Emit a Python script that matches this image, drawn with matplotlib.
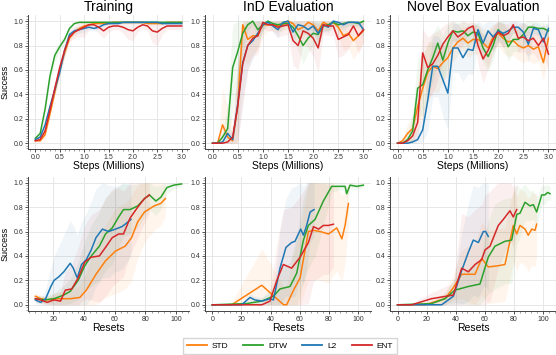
import numpy as np
import matplotlib
matplotlib.use('Agg')
import matplotlib.pyplot as plt
from matplotlib.ticker import AutoMinorLocator, MultipleLocator
from matplotlib.lines import Line2D

plt.rcParams['font.family'] = ['Liberation Sans', 'DejaVu Sans']

# colours per method
c_std = '#ff7f0e'
c_dtw = '#2ca02c'
c_l2 = '#1f77b4'
c_ent = '#d62728'

# ---- top row: steps (millions), sampled every 0.1M ----
steps = [0.0, 0.1, 0.2, 0.3, 0.4, 0.5, 0.6, 0.7, 0.8, 0.9, 1.0, 1.1, 1.2, 1.3, 1.4, 1.5,
         1.6, 1.7, 1.8, 1.9, 2.0, 2.1, 2.2, 2.3, 2.4, 2.5, 2.6, 2.7, 2.8, 2.9, 3.0]

# Training
tr_std = [0.02, 0.02, 0.07, 0.24, 0.42, 0.60, 0.74, 0.86, 0.91, 0.94, 0.96, 0.97, 0.98, 0.98, 0.98, 0.98,
          0.99, 0.99, 0.99, 0.99, 0.99, 0.99, 0.99, 0.98, 0.98, 0.98, 0.98, 0.99, 0.99, 0.99, 0.99]
tr_dtw = [0.04, 0.08, 0.28, 0.55, 0.72, 0.79, 0.85, 0.94, 0.98, 0.99, 0.99, 0.99, 0.99, 0.99, 0.99, 0.99,
          0.99, 0.99, 0.99, 0.99, 0.99, 0.99, 0.99, 0.99, 0.99, 0.99, 0.99, 0.99, 0.99, 0.99, 0.99]
tr_l2 = [0.03, 0.05, 0.15, 0.30, 0.44, 0.58, 0.76, 0.89, 0.92, 0.93, 0.94, 0.95, 0.94, 0.95, 0.97, 0.98,
         0.98, 0.98, 0.99, 0.99, 0.99, 0.99, 0.99, 0.99, 0.99, 0.99, 0.98, 0.98, 0.98, 0.98, 0.98]
tr_ent = [0.02, 0.03, 0.10, 0.27, 0.45, 0.62, 0.76, 0.87, 0.91, 0.93, 0.95, 0.97, 0.97, 0.95, 0.92, 0.95,
          0.96, 0.96, 0.95, 0.93, 0.92, 0.95, 0.97, 0.96, 0.92, 0.91, 0.94, 0.96, 0.96, 0.96, 0.96]
tr_std_s = [0.01, 0.01, 0.03, 0.04, 0.04, 0.04, 0.04, 0.03, 0.03, 0.02, 0.02, 0.01, 0.01, 0.01, 0.01, 0.01,
            0.01, 0.01, 0.01, 0.01, 0.01, 0.01, 0.01, 0.01, 0.01, 0.01, 0.01, 0.01, 0.01, 0.01, 0.01]
tr_dtw_s = [0.01, 0.02, 0.04, 0.05, 0.05, 0.04, 0.03, 0.02, 0.01, 0.01, 0.01, 0.01, 0.01, 0.01, 0.01, 0.01,
            0.01, 0.01, 0.01, 0.01, 0.01, 0.01, 0.01, 0.01, 0.01, 0.01, 0.01, 0.01, 0.01, 0.01, 0.01]
tr_l2_s = [0.01, 0.01, 0.03, 0.04, 0.04, 0.04, 0.04, 0.03, 0.03, 0.03, 0.03, 0.02, 0.02, 0.02, 0.02, 0.01,
           0.01, 0.01, 0.01, 0.01, 0.01, 0.01, 0.01, 0.01, 0.01, 0.01, 0.01, 0.01, 0.01, 0.01, 0.01]
tr_ent_s = [0.01, 0.01, 0.03, 0.04, 0.05, 0.05, 0.05, 0.04, 0.05, 0.06, 0.08, 0.04, 0.03, 0.05, 0.06, 0.04,
            0.03, 0.03, 0.05, 0.08, 0.08, 0.04, 0.03, 0.04, 0.10, 0.11, 0.05, 0.03, 0.03, 0.03, 0.03]

# InD Evaluation
ind_std = [0.0, 0.0, 0.15, 0.05, 0.02, 0.30, 0.97, 0.85, 0.88, 0.88, 0.97, 0.97, 0.97, 0.96, 0.97, 1.00,
           0.98, 0.93, 0.95, 0.99, 0.97, 0.92, 0.99, 0.97, 0.99, 0.95, 0.88, 0.90, 0.84, 0.88, 0.92]
ind_dtw = [0.0, 0.0, 0.05, 0.12, 0.62, 0.75, 0.90, 0.97, 1.00, 0.93, 0.97, 1.00, 0.98, 0.97, 0.98, 0.98,
           0.95, 0.88, 0.80, 0.86, 0.90, 0.89, 0.96, 0.97, 0.99, 0.97, 0.98, 0.99, 0.99, 0.98, 1.00]
ind_l2 = [0.0, 0.0, 0.01, 0.08, 0.03, 0.32, 0.66, 0.80, 0.84, 0.90, 0.97, 0.99, 0.96, 0.93, 0.99, 1.00,
          0.91, 0.97, 0.96, 0.93, 0.96, 0.90, 0.97, 0.95, 1.00, 0.99, 0.97, 0.99, 0.99, 0.99, 0.93]
ind_ent = [0.0, 0.0, 0.0, 0.01, 0.05, 0.30, 0.65, 0.80, 0.86, 0.88, 0.99, 0.97, 0.97, 0.95, 0.96, 0.97,
           0.84, 0.80, 0.92, 0.90, 0.86, 0.78, 0.97, 0.96, 0.96, 0.85, 0.87, 0.89, 0.96, 0.88, 0.93]
ind_std_s = [0.0, 0.0, 0.30, 0.25, 0.10, 0.30, 0.30, 0.20, 0.15, 0.12, 0.10, 0.05, 0.05, 0.05, 0.05, 0.03,
             0.05, 0.08, 0.08, 0.05, 0.05, 0.10, 0.05, 0.05, 0.05, 0.08, 0.12, 0.12, 0.15, 0.12, 0.10]
ind_dtw_s = [0.0, 0.0, 0.05, 0.20, 0.35, 0.30, 0.15, 0.05, 0.03, 0.08, 0.05, 0.02, 0.03, 0.05, 0.05, 0.05,
             0.08, 0.12, 0.15, 0.12, 0.10, 0.10, 0.05, 0.05, 0.03, 0.05, 0.03, 0.03, 0.03, 0.03, 0.02]
ind_l2_s = [0.0, 0.0, 0.02, 0.08, 0.05, 0.30, 0.30, 0.20, 0.15, 0.10, 0.05, 0.02, 0.05, 0.07, 0.02, 0.02,
            0.08, 0.05, 0.05, 0.07, 0.05, 0.10, 0.05, 0.05, 0.02, 0.02, 0.05, 0.03, 0.03, 0.03, 0.07]
ind_ent_s = [0.0, 0.0, 0.0, 0.02, 0.10, 0.35, 0.35, 0.20, 0.15, 0.15, 0.05, 0.05, 0.05, 0.08, 0.08, 0.08,
             0.20, 0.20, 0.10, 0.12, 0.15, 0.20, 0.08, 0.08, 0.08, 0.15, 0.15, 0.12, 0.10, 0.15, 0.10]

# Novel Box Evaluation
nb_std = [0.0, 0.02, 0.08, 0.12, 0.30, 0.45, 0.58, 0.63, 0.61, 0.66, 0.70, 0.78, 0.83, 0.86, 0.82, 0.85,
          0.85, 0.82, 0.78, 0.87, 0.90, 0.86, 0.83, 0.84, 0.80, 0.78, 0.80, 0.77, 0.79, 0.66, 0.86]
nb_dtw = [0.0, 0.0, 0.03, 0.10, 0.45, 0.48, 0.60, 0.70, 0.82, 0.68, 0.82, 0.92, 0.91, 0.92, 0.88, 0.91,
          0.90, 0.78, 0.71, 0.80, 0.93, 0.89, 0.79, 0.85, 0.85, 0.89, 0.95, 0.95, 0.94, 0.94, 0.92]
nb_l2 = [0.0, 0.0, 0.0, 0.01, 0.03, 0.11, 0.35, 0.63, 0.63, 0.52, 0.41, 0.78, 0.78, 0.70, 0.77, 0.76,
         0.93, 0.82, 0.92, 0.87, 0.92, 0.90, 0.92, 0.95, 0.95, 0.91, 0.81, 0.94, 0.93, 0.83, 0.94]
nb_ent = [0.0, 0.0, 0.02, 0.06, 0.17, 0.74, 0.62, 0.65, 0.72, 0.81, 0.87, 0.92, 0.87, 0.90, 0.94, 0.96,
          0.80, 0.69, 0.76, 0.85, 0.91, 0.88, 0.90, 0.97, 0.86, 0.87, 0.84, 0.86, 0.80, 0.86, 0.73]
nb_std_s = [0.0, 0.02, 0.08, 0.10, 0.20, 0.25, 0.25, 0.20, 0.20, 0.15, 0.15, 0.12, 0.10, 0.10, 0.12, 0.12,
            0.12, 0.12, 0.15, 0.10, 0.10, 0.12, 0.12, 0.12, 0.12, 0.12, 0.12, 0.12, 0.12, 0.15, 0.12]
nb_dtw_s = [0.0, 0.01, 0.05, 0.15, 0.25, 0.25, 0.20, 0.20, 0.15, 0.20, 0.15, 0.08, 0.08, 0.08, 0.10, 0.08,
            0.08, 0.12, 0.12, 0.12, 0.08, 0.10, 0.12, 0.10, 0.10, 0.10, 0.05, 0.05, 0.05, 0.05, 0.05]
nb_l2_s = [0.0, 0.0, 0.01, 0.03, 0.10, 0.10, 0.25, 0.25, 0.25, 0.30, 0.30, 0.20, 0.20, 0.20, 0.20, 0.20,
           0.10, 0.15, 0.10, 0.12, 0.08, 0.10, 0.08, 0.05, 0.05, 0.08, 0.15, 0.05, 0.05, 0.12, 0.05]
nb_ent_s = [0.0, 0.0, 0.02, 0.05, 0.15, 0.20, 0.25, 0.25, 0.20, 0.15, 0.12, 0.08, 0.10, 0.10, 0.05, 0.05,
            0.15, 0.20, 0.15, 0.12, 0.08, 0.10, 0.08, 0.05, 0.12, 0.12, 0.12, 0.12, 0.12, 0.12, 0.15]

# ---- bottom row: resets ----
# Training vs resets
bl_std_x = [8.3, 11.8, 16, 22.6, 31, 37.3, 41.5, 47.8, 54, 60.5, 66.8, 71, 75, 79.4, 85.7, 90, 93]
bl_std_y = [0.07, 0.05, 0.04, 0.05, 0.05, 0.06, 0.12, 0.25, 0.36, 0.44, 0.48, 0.55, 0.68, 0.76, 0.81, 0.83, 0.87]
bl_std_s = [0.03, 0.03, 0.03, 0.05, 0.08, 0.10, 0.15, 0.25, 0.30, 0.35, 0.35, 0.35, 0.30, 0.25, 0.20, 0.18, 0.15]
bl_dtw_x = [8.3, 14.2, 20.5, 26.8, 31, 36.2, 40.5, 44.7, 50, 54, 58.4, 62.6, 65.7, 70, 75, 79.4, 82.6,
            86.8, 90, 94, 98.4, 103.6]
bl_dtw_y = [0.05, 0.04, 0.05, 0.08, 0.11, 0.20, 0.32, 0.40, 0.48, 0.58, 0.63, 0.72, 0.78, 0.78, 0.81, 0.87,
            0.90, 0.85, 0.88, 0.96, 0.98, 0.99]
bl_dtw_s = [0.03, 0.03, 0.05, 0.08, 0.10, 0.15, 0.20, 0.25, 0.28, 0.30, 0.30, 0.25, 0.22, 0.20, 0.18, 0.15,
            0.12, 0.12, 0.10, 0.05, 0.03, 0.02]
bl_l2_x = [8.3, 11.8, 15, 18.4, 20.5, 23.6, 26.8, 31, 33, 35.6, 38.4, 41.5, 44.7, 47.8, 52, 56, 60.5, 64.7,
           67.8, 70.6]
bl_l2_y = [0.04, 0.02, 0.05, 0.15, 0.20, 0.23, 0.27, 0.34, 0.30, 0.22, 0.33, 0.37, 0.45, 0.55, 0.62, 0.60,
           0.62, 0.64, 0.67, 0.70]
bl_l2_s = [0.03, 0.03, 0.08, 0.15, 0.20, 0.25, 0.30, 0.35, 0.35, 0.35, 0.35, 0.38, 0.40, 0.40, 0.40, 0.38,
           0.35, 0.35, 0.32, 0.30]
bl_ent_x = [8.3, 11.8, 16, 20.5, 24.7, 27.8, 32, 36.2, 40.5, 44.7, 50, 54, 58.4, 62.6, 65.7, 70, 75, 79.4, 82.6]
bl_ent_y = [0.05, 0.04, 0.02, 0.04, 0.03, 0.12, 0.13, 0.22, 0.35, 0.39, 0.40, 0.47, 0.55, 0.58, 0.58, 0.71,
            0.80, 0.87, 0.90]
bl_ent_s = [0.03, 0.03, 0.03, 0.05, 0.08, 0.15, 0.20, 0.25, 0.30, 0.35, 0.38, 0.40, 0.40, 0.38, 0.35, 0.30,
            0.25, 0.20, 0.15]

# InD vs resets
bm_std_x = [0, 13.3, 34, 49, 51.1, 55.8, 60.3, 66, 69.5, 74, 79.8, 85.5, 89, 91.2, 93.5]
bm_std_y = [0.0, 0.0, 0.16, 0.0, 0.0, 0.12, 0.22, 0.60, 0.61, 0.60, 0.58, 0.63, 0.54, 0.65, 0.83]
bm_std_s = [0.0, 0.02, 0.30, 0.15, 0.15, 0.30, 0.40, 0.40, 0.40, 0.40, 0.40, 0.35, 0.35, 0.30, 0.20]
bm_dtw_x = [0, 23.6, 34, 42, 46.5, 53.4, 58, 62.6, 66, 70.6, 76.3, 82, 86.6, 91.2, 92.3, 94.6, 99.2, 103.8]
bm_dtw_y = [0.0, 0.01, 0.03, 0.07, 0.13, 0.15, 0.26, 0.53, 0.65, 0.70, 0.85, 0.97, 0.97, 0.97, 0.91, 0.98,
            0.97, 0.98]
bm_dtw_s = [0.0, 0.01, 0.03, 0.08, 0.15, 0.20, 0.30, 0.35, 0.35, 0.30, 0.20, 0.05, 0.03, 0.03, 0.05, 0.03,
            0.02, 0.02]
bm_l2_x = [0, 20.1, 25.9, 29.3, 34, 39.6, 42, 46.5, 50.6, 54.5, 56.8, 60.7, 62.6, 64.8, 67.2, 69.9]
bm_l2_y = [0.0, 0.0, 0.06, 0.04, 0.03, 0.05, 0.04, 0.30, 0.47, 0.51, 0.52, 0.62, 0.57, 0.65, 0.76, 0.78]
bm_l2_s = [0.0, 0.0, 0.03, 0.03, 0.03, 0.05, 0.05, 0.30, 0.40, 0.45, 0.45, 0.40, 0.40, 0.35, 0.25, 0.22]
bm_ent_x = [0, 23.6, 34, 39.6, 44.3, 48.8, 54.5, 60.3, 66, 69.5, 73, 76.3, 79.8, 83.2]
bm_ent_y = [0.0, 0.0, 0.0, 0.03, 0.20, 0.33, 0.30, 0.39, 0.51, 0.64, 0.62, 0.65, 0.65, 0.66]
bm_ent_s = [0.0, 0.0, 0.01, 0.05, 0.30, 0.45, 0.50, 0.50, 0.50, 0.45, 0.40, 0.40, 0.40, 0.35]

# Novel box vs resets
br_std_x = [0, 18.9, 32.6, 38.4, 44.1, 53.3, 57.9, 62.4, 69.3, 73.9, 79.6, 82, 84.2, 87.7, 89.9, 92.3, 94.6, 95.7]
br_std_y = [0.0, 0.0, 0.05, 0.14, 0.25, 0.25, 0.38, 0.31, 0.32, 0.33, 0.65, 0.58, 0.65, 0.62, 0.57, 0.62,
            0.61, 0.66]
br_std_s = [0.0, 0.01, 0.05, 0.10, 0.20, 0.25, 0.30, 0.30, 0.30, 0.30, 0.30, 0.30, 0.30, 0.30, 0.30, 0.30,
            0.30, 0.25]
br_dtw_x = [0, 23.4, 32.6, 39.5, 48.7, 56.7, 62.4, 67, 73.9, 78.5, 82, 84.2, 87.7, 91.1, 93.4, 95.7, 99.2,
            101.4, 103.2, 104.9]
br_dtw_y = [0.0, 0.01, 0.05, 0.12, 0.15, 0.17, 0.39, 0.48, 0.52, 0.53, 0.74, 0.75, 0.84, 0.81, 0.82, 0.76,
            0.90, 0.90, 0.92, 0.91]
br_dtw_s = [0.0, 0.01, 0.05, 0.10, 0.15, 0.20, 0.30, 0.35, 0.35, 0.35, 0.25, 0.20, 0.15, 0.12, 0.12, 0.12,
            0.08, 0.08, 0.06, 0.06]
br_l2_x = [0, 30.3, 38.4, 44.1, 48.7, 52.1, 55.6, 59, 60.6, 62.4]
br_l2_y = [0.0, 0.0, 0.07, 0.28, 0.43, 0.53, 0.51, 0.60, 0.60, 0.56]
br_l2_s = [0.0, 0.01, 0.10, 0.30, 0.40, 0.45, 0.45, 0.45, 0.45, 0.45]
br_ent_x = [0, 9.7, 23.4, 38.4, 44.1, 48.7, 53.3, 57.9, 60.2, 63.6, 69.3, 72.8, 77.3, 79.6, 82]
br_ent_y = [0.0, 0.0, 0.05, 0.08, 0.30, 0.27, 0.33, 0.37, 0.45, 0.48, 0.65, 0.70, 0.77, 0.72, 0.78]
br_ent_s = [0.0, 0.01, 0.05, 0.10, 0.45, 0.45, 0.45, 0.45, 0.45, 0.45, 0.35, 0.30, 0.25, 0.25, 0.20]


def curve(ax, x, y, s, c):
    x = np.asarray(x)
    y = np.asarray(y)
    s = np.asarray(s)
    ax.fill_between(x, np.clip(y - s, 0, 1), np.clip(y + s, 0, 1), color=c, alpha=0.07, lw=0)
    ax.plot(x, y, color=c, lw=1.1)


def style(ax):
    for sp in ['top', 'right']:
        ax.spines[sp].set_visible(False)
    for sp in ['left', 'bottom']:
        ax.spines[sp].set_color('#444444')
        ax.spines[sp].set_linewidth(0.7)
    ax.set_ylim(-0.05, 1.05)
    ax.yaxis.set_major_locator(MultipleLocator(0.2))
    ax.yaxis.set_minor_locator(AutoMinorLocator(10))
    ax.xaxis.set_minor_locator(AutoMinorLocator(5))
    ax.grid(True, which='major', color='#e3e3e3', lw=0.6)
    ax.set_axisbelow(True)
    ax.tick_params(which='major', labelsize=5, length=2, width=0.6, pad=1.5, colors='#333333')
    ax.tick_params(which='minor', length=1.3, width=0.4, colors='#555555')


fig = plt.figure(figsize=(5.56, 3.55), dpi=100)
W, H = 556.0, 355.0
lefts = [28.0, 205.0, 390.0]
widths = [161.0, 166.0, 166.0]
tops = [15.0, 176.6]
hgt = 134.3

axes = []
for r in range(2):
    row = []
    for c in range(3):
        ax = fig.add_axes([lefts[c] / W, 1 - (tops[r] + hgt) / H, widths[c] / W, hgt / H])
        style(ax)
        row.append(ax)
    axes.append(row)

top_sets = [
    (tr_std, tr_std_s, tr_dtw, tr_dtw_s, tr_l2, tr_l2_s, tr_ent, tr_ent_s),
    (ind_std, ind_std_s, ind_dtw, ind_dtw_s, ind_l2, ind_l2_s, ind_ent, ind_ent_s),
    (nb_std, nb_std_s, nb_dtw, nb_dtw_s, nb_l2, nb_l2_s, nb_ent, nb_ent_s),
]
titles = ['Training', 'InD Evaluation', 'Novel Box Evaluation']
for c, d in enumerate(top_sets):
    ax = axes[0][c]
    curve(ax, steps, d[0], d[1], c_std)
    curve(ax, steps, d[2], d[3], c_dtw)
    curve(ax, steps, d[4], d[5], c_l2)
    curve(ax, steps, d[6], d[7], c_ent)
    ax.set_xlim(-0.15, 3.15)
    ax.xaxis.set_major_locator(MultipleLocator(0.5))
    ax.set_title(titles[c], fontsize=10, pad=3)
    ax.set_xlabel('Steps (Millions)', fontsize=7.5, labelpad=0)

bottom_sets = [
    [(bl_std_x, bl_std_y, bl_std_s), (bl_dtw_x, bl_dtw_y, bl_dtw_s), (bl_l2_x, bl_l2_y, bl_l2_s), (bl_ent_x, bl_ent_y, bl_ent_s)],
    [(bm_std_x, bm_std_y, bm_std_s), (bm_dtw_x, bm_dtw_y, bm_dtw_s), (bm_l2_x, bm_l2_y, bm_l2_s), (bm_ent_x, bm_ent_y, bm_ent_s)],
    [(br_std_x, br_std_y, br_std_s), (br_dtw_x, br_dtw_y, br_dtw_s), (br_l2_x, br_l2_y, br_l2_s), (br_ent_x, br_ent_y, br_ent_s)],
]
cols = [c_std, c_dtw, c_l2, c_ent]
for c, sets in enumerate(bottom_sets):
    ax = axes[1][c]
    for (x, y, s), col in zip(sets, cols):
        curve(ax, x, y, s, col)
    ax.xaxis.set_major_locator(MultipleLocator(20))
    ax.set_xlabel('Resets', fontsize=7.5, labelpad=0)
axes[1][0].set_xlim(3.5, 108.4)
axes[1][1].set_xlim(-5.0, 109.0)
axes[1][2].set_xlim(-5.2, 109.0)

for r in range(2):
    axes[r][0].set_ylabel('Success', fontsize=6.5)
    axes[r][0].yaxis.set_label_coords(-18.5 / 161.0, 0.5)

handles = [Line2D([], [], color=col, lw=1.3) for col in cols]
fig.legend(handles, ['STD', 'DTW', 'L2', 'ENT'], ncol=4, loc='center',
           bbox_to_anchor=(290 / W, 1 - 346 / H), fontsize=6, frameon=True,
           edgecolor='#cccccc', fancybox=False, handlelength=2.4, columnspacing=1.8,
           borderpad=0.45, handletextpad=0.6)

fig.savefig('out.png', dpi=100)
